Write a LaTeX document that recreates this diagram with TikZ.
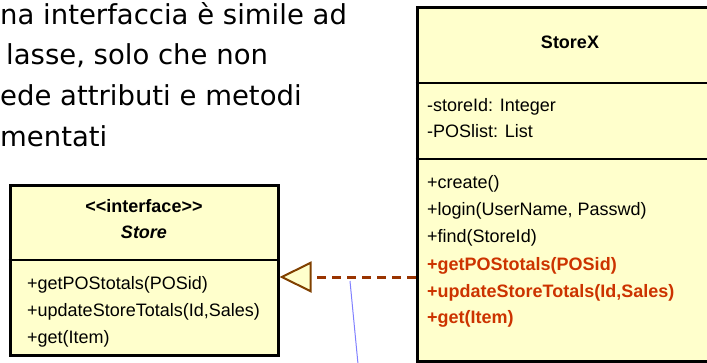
\documentclass[tikz,border=0pt]{standalone}
\usepackage{fontspec}
\setmainfont{Liberation Sans}
\newfontfamily\notefont{DejaVu Sans}
\usepackage{tikz}
\usetikzlibrary{arrows.meta, positioning, calc}
\definecolor{umlfill}{RGB}{255,255,204}
\definecolor{umlred}{RGB}{204,51,0}
\definecolor{realline}{RGB}{153,51,0}
\definecolor{realtip}{RGB}{128,64,0}
\definecolor{noteline}{RGB}{128,128,255}
\tikzset{
  classbox/.style={rectangle, draw=black, fill=umlfill, line width=3pt,
    inner sep=0pt},
  divider/.style={line width=2.5pt, color=black},
  member/.style={anchor=base west, inner sep=0pt,
    font=\fontsize{18}{22}\selectfont},
  redmember/.style={member, color=umlred, font=\fontsize{18}{22}\selectfont\bfseries},
  title/.style={anchor=base, inner sep=0pt,
    font=\fontsize{18}{22}\selectfont\bfseries},
  noteline/.style={anchor=base west, inner sep=0pt,
    font=\notefont\fontsize{27.5}{33}\selectfont},
  realize/.style={realline, line width=3pt, dash pattern=on 9pt off 6pt,
    -{Triangle[length=32pt, width=31pt, line width=2pt, color=realtip, fill=umlfill]}},
  anchorline/.style={noteline, line width=1pt}
}
\begin{document}
\begin{tikzpicture}[x=1pt, y=-1pt]
  \useasboundingbox (0,0) rectangle (707,362);
  % Text at top left
  \node[noteline] (l1) at (0,24) {na interfaccia è simile ad};
  \node[noteline] (l2) at (6,64) {lasse, solo che non};
  \node[noteline] (l3) at (0,105) {ede attributi e metodi};
  \node[noteline] (l4) at (0,146) {mentati};
  % Interface Store
  \node[classbox, minimum width=268pt, minimum height=170pt] (store) at (144,270) {};
  \draw[divider] (store.west |- 0,260) -- (store.east |- 0,260);
  \node[title] (stereo) at (144,212) {<{}<interface>{}>};
  \node[title, font=\fontsize{18}{22}\selectfont\bfseries\itshape] (sname) at (144,238) {Store};
  \node[member] (s1) at (27,289) {+getPOStotals(POSid)};
  \node[member] (s2) at (27,316) {+updateStoreTotals(Id,Sales)};
  \node[member] (s3) at (27,343) {+get(Item)};
  % Class StoreX
  \node[classbox, minimum width=306pt, minimum height=354pt] (storex) at (570,184) {};
  \draw[divider] (storex.west |- 0,83) -- (storex.east |- 0,83);
  \draw[divider] (storex.west |- 0,159) -- (storex.east |- 0,159);
  \node[title] (xname) at (570,48) {StoreX};
  \node[member] (a1) at (427,111) {-storeId: Integer};
  \node[member] (a2) at (427,137) {-POSlist: List};
  \node[member] (m1) at (427,188) {+create()};
  \node[member] (m2) at (427,215) {+login(UserName, Passwd)};
  \node[member] (m3) at (427,242) {+find(StoreId)};
  \node[redmember] (m4) at (427,270) {+getPOStotals(POSid)};
  \node[redmember] (m5) at (427,297) {+updateStoreTotals(Id,Sales)};
  \node[redmember] (m6) at (427,323) {+get(Item)};
  % Realization
  \coordinate (implfrom) at (storex.west |- 0,277);
  \draw[realize] (implfrom) -- (implfrom -| store.east);
  % Note anchor
  \coordinate (notefrom) at (350,281);
  \coordinate (noteto) at (358,364);
  \draw[anchorline, draw=noteline] (notefrom) -- (noteto);
\end{tikzpicture}
\end{document}
